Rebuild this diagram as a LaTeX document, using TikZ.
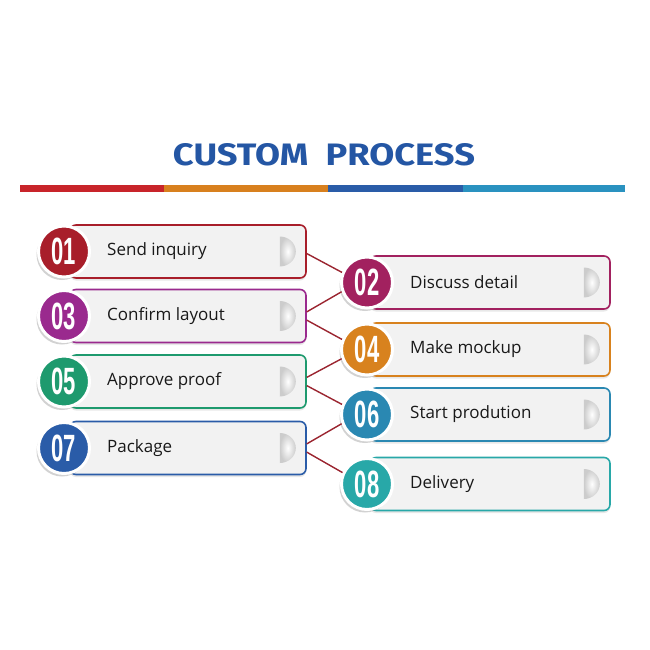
\documentclass[tikz,border=0pt]{standalone}
\usepackage{fontspec}
\setmainfont{Open Sans}
\newfontfamily\numfont{Liberation Sans}
\newfontfamily\titlefont{Fira Sans}
\usetikzlibrary{shadows}
\definecolor{cA}{HTML}{A81E2A}
\definecolor{cB}{HTML}{A2215F}
\definecolor{cC}{HTML}{9A2A8E}
\definecolor{cD}{HTML}{D8821E}
\definecolor{cE}{HTML}{1E9A6E}
\definecolor{cF}{HTML}{2A88B2}
\definecolor{cG}{HTML}{2A5CA8}
\definecolor{cH}{HTML}{28A8A8}
\definecolor{titleblue}{HTML}{2456A4}
\definecolor{barred}{HTML}{C8242A}
\definecolor{barorange}{HTML}{D8801E}
\definecolor{barblue}{HTML}{2A5CA8}
\definecolor{barlblue}{HTML}{2A92C0}
\definecolor{linkred}{HTML}{9B2530}
\definecolor{boxfill}{HTML}{F2F2F2}
\tikzset{
  stepcard/.style={draw=#1, line width=1.6pt, fill=boxfill, rounded corners=6pt,
    minimum height=53pt, inner sep=0pt,
    drop shadow={opacity=0.18, shadow xshift=0pt, shadow yshift=-2.5pt}},
  leftcard/.style={stepcard=#1, minimum width=236pt},
  rightcard/.style={stepcard=#1, minimum width=240pt},
  numdisc/.style={circle, fill=#1, draw=white, line width=3pt, minimum size=51pt, inner sep=0pt,
    text=white, font=\numfont\bfseries\fontsize{38}{38}\selectfont,
    drop shadow={opacity=0.35, shadow xshift=-2pt, shadow yshift=-3pt}},
  steplabel/.style={anchor=west, font=\fontsize{17}{19}\selectfont, text=black!90, inner sep=0pt},
  link/.style={draw=linkred, line width=1.4pt},
  moon/.style={inner color=white, outer color=black!20}
}
\newcommand{\dg}[1]{\scalebox{0.58}[1]{#1}}
\newcommand{\crescent}[1]{%
  \shade[moon] ([xshift=-27pt,yshift=15pt]#1.east) arc[start angle=90, end angle=-90, x radius=16pt, y radius=15pt] -- cycle;}
\begin{document}
\begin{tikzpicture}[x=1pt,y=-1pt]
\useasboundingbox[fill=white] (0,0) rectangle (650,650);
% title
\node[font=\titlefont\bfseries\fontsize{31}{31}\selectfont, text=titleblue] (title) at (324,155) {\scalebox{1.17}[1]{CUSTOM\ \ PROCESS}};
% bar
\fill[barred] (20,185) rectangle (164,192);
\fill[barorange] (164,185) rectangle (328,192);
\fill[barblue] (328,185) rectangle (463,192);
\fill[barlblue] (463,185) rectangle (625,192);
% cards
\node[leftcard=cA] (b1) at (188,251.5) {};
\node[leftcard=cC] (b3) at (188,316) {};
\node[leftcard=cE] (b5) at (188,381.5) {};
\node[leftcard=cG] (b7) at (188,448) {};
\node[rightcard=cB] (b2) at (490,282.5) {};
\node[rightcard=cD] (b4) at (490,349.5) {};
\node[rightcard=cF] (b6) at (490,414.5) {};
\node[rightcard=cH] (b8) at (490,484) {};
\foreach \b in {b1,b2,b3,b4,b5,b6,b7,b8}{\crescent{\b}}
% discs
\node[numdisc=cA] (n1) at (64,251.5) {\dg{01}};
\node[numdisc=cC] (n3) at (64,316) {\dg{03}};
\node[numdisc=cE] (n5) at (64,381.5) {\dg{05}};
\node[numdisc=cG] (n7) at (64,448) {\dg{07}};
\node[numdisc=cB] (n2) at (367,282.5) {\dg{02}};
\node[numdisc=cD] (n4) at (367,349.5) {\dg{04}};
\node[numdisc=cF] (n6) at (367,414.5) {\dg{06}};
\node[numdisc=cH] (n8) at (367,484) {\dg{08}};
% labels
\node[steplabel] (t1) at (107,251.5) {Send inquiry};
\node[steplabel] (t3) at (107,316) {Confirm layout};
\node[steplabel] (t5) at (107,381.5) {Approve proof};
\node[steplabel] (t7) at (107,448) {Package};
\node[steplabel] (t2) at (410,282.5) {Discuss detail};
\node[steplabel] (t4) at (410,349.5) {Make mockup};
\node[steplabel] (t6) at (410,414.5) {Start prodution};
\node[steplabel] (t8) at (410,484) {Delivery};
% links
\draw[link] (b1.-1) -- (n2.158);
\draw[link] (b3.2) -- (n2.200);
\draw[link] (b3.-2) -- (n4.158);
\draw[link] (b5.2) -- (n4.200);
\draw[link] (b5.-2) -- (n6.158);
\draw[link] (b7.2) -- (n6.200);
\draw[link] (b7.-2) -- (n8.155);
\end{tikzpicture}
\end{document}
